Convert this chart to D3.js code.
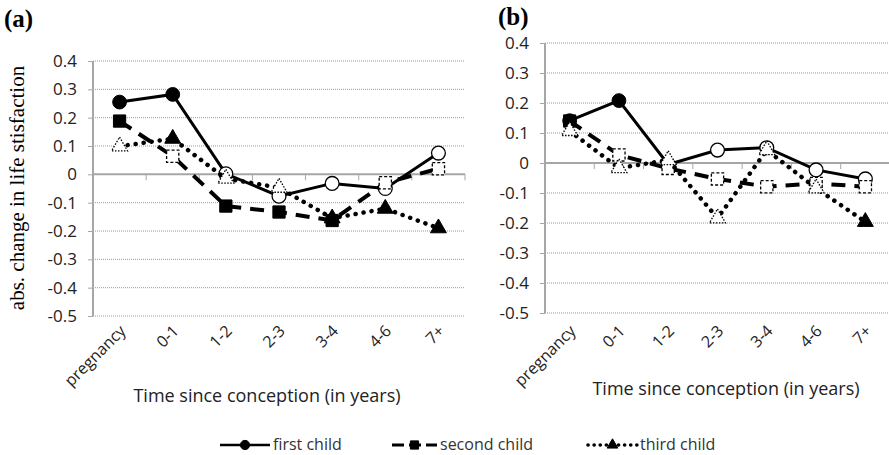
<!DOCTYPE html>
<html>
<head>
<meta charset="utf-8">
<script src="https://cdn.jsdelivr.net/npm/d3@7"></script>
<style>
  body { margin: 0; background: #fff; }
  svg { display: block; }
  .tick text { font-family: "Open Sans", sans-serif; }
</style>
</head>
<body>
<svg id="chart" width="889" height="455"></svg>
<script>
const categories = ['pregnancy', '0-1', '1-2', '2-3', '3-4', '4-6', '7+']
const yTicks = [0.4, 0.3, 0.2, 0.1, 0, -0.1, -0.2, -0.3, -0.4, -0.5]
const seriesNames = ['first child', 'second child', 'third child']

// panel (a)
const aFirst = [0.255, 0.282, 0.002, -0.077, -0.032, -0.05, 0.075]
const aFirstSig = [1, 1, 0, 0, 0, 0, 0]
const aSecond = [0.188, 0.064, -0.112, -0.133, -0.163, -0.03, 0.02]
const aSecondSig = [1, 0, 1, 1, 1, 0, 0]
const aThird = [0.099, 0.126, -0.015, -0.047, -0.155, -0.121, -0.19]
const aThirdSig = [0, 1, 0, 0, 1, 1, 1]

// panel (b)
const bFirst = [0.141, 0.208, -0.005, 0.043, 0.051, -0.023, -0.053]
const bFirstSig = [1, 1, 0, 0, 0, 0, 0]
const bSecond = [0.14, 0.027, -0.018, -0.053, -0.079, -0.068, -0.079]
const bSecondSig = [1, 0, 0, 0, 0, 0, 0]
const bThird = [0.107, -0.017, 0.01, -0.184, 0.043, -0.084, -0.196]
const bThirdSig = [0, 0, 0, 0, 0, 0, 1]

const svg = d3.select('#chart')
const grey = '#a6a6a6'
const sans = '"Open Sans", sans-serif'
const serif = '"Liberation Serif", serif'

const lineStyles = [
	{dash: null, width: 3, cap: 'butt'},
	{dash: '14,9', width: 4, cap: 'butt'},
	{dash: '0.1,8', width: 4.5, cap: 'round'}
]
const shapes = [d3.symbolCircle, d3.symbolSquare, d3.symbolTriangle]
const shapeSizes = [150, 150, 110]
const openDash = [null, '3,2', '1.5,1.5']

function marker(g, kind, filled, x, y, scale) {
	g.append('path')
		.attr('d', d3.symbol().type(shapes[kind]).size(shapeSizes[kind] * scale)())
		.attr('transform', `translate(${x},${y})`)
		.style('fill', filled ? '#000' : '#fff')
		.style('stroke', '#000')
		.style('stroke-width', filled ? 1 : 1.3)
		.style('stroke-dasharray', filled ? null : openDash[kind])
}

function drawPanel(p) {
	let x = d3.scalePoint().domain(categories).range([p.left, p.right]).padding(0.5)
	let y = d3.scaleLinear().domain([-0.5, 0.4]).range([p.bottom, p.top])
	let g = svg.append('g')

	// dotted gridlines
	g.selectAll('.grid')
		.data(yTicks.filter(d => d !== 0))
		.enter().append('line')
		.attr('x1', p.left).attr('x2', p.right)
		.attr('y1', d => y(d)).attr('y2', d => y(d))
		.style('stroke', '#999')
		.style('stroke-width', 1)
		.style('stroke-dasharray', '1,1')

	// y axis
	let yAxis = g.append('g')
		.attr('transform', `translate(${p.left},0)`)
		.call(d3.axisLeft(y)
			.tickValues(yTicks)
			.tickSize(5)
			.tickPadding(11)
			.tickFormat(d => d === 0 ? '0' : d.toFixed(1)))
	yAxis.select('.domain').style('stroke', grey).style('stroke-width', 2)
		.attr('d', `M0,${y(0.4)}V${y(-0.5)}`)
	yAxis.selectAll('.tick line').style('stroke', grey).style('stroke-width', 1)
	yAxis.selectAll('.tick text').style('font-size', '17px').style('fill', '#222')

	// zero line with ticks between categories
	let step = x.step()
	g.append('line')
		.attr('x1', p.left).attr('x2', p.right)
		.attr('y1', y(0)).attr('y2', y(0))
		.style('stroke', grey).style('stroke-width', 2)
	g.selectAll('.ztick')
		.data(d3.range(1, categories.length + 1))
		.enter().append('line')
		.attr('x1', i => p.left + i * step).attr('x2', i => p.left + i * step)
		.attr('y1', y(0)).attr('y2', y(0) + 6)
		.style('stroke', grey).style('stroke-width', 1)

	// category labels
	g.selectAll('.cat')
		.data(categories)
		.enter().append('text')
		.attr('transform', d => `translate(${x(d) + 7},${p.catY}) rotate(-45)`)
		.attr('text-anchor', 'end')
		.style('font-family', sans)
		.style('font-size', '16px')
		.style('fill', '#222')
		.text(d => d)

	g.append('text')
		.attr('x', p.titleX).attr('y', p.titleY)
		.attr('text-anchor', 'middle')
		.style('font-family', sans)
		.style('font-size', '18px')
		.style('fill', '#222')
		.text('Time since conception (in years)')

	g.append('text')
		.attr('x', p.labelX).attr('y', p.labelY)
		.style('font-family', serif)
		.style('font-weight', 'bold')
		.style('font-size', '25px')
		.text(p.label)

	// series: lines then markers, in order
	p.series.forEach((s, k) => {
		let line = d3.line().x((d, i) => x(categories[i])).y(d => y(d))
		g.append('path')
			.datum(s.values)
			.attr('d', line)
			.style('fill', 'none')
			.style('stroke', '#000')
			.style('stroke-width', lineStyles[k].width)
			.style('stroke-linecap', lineStyles[k].cap)
			.style('stroke-dasharray', lineStyles[k].dash)
		s.values.forEach((v, i) => {
			marker(g, k, s.sig[i], x(categories[i]), y(v), 1)
		})
	})
}

drawPanel({
	left: 93, right: 465, top: 61, bottom: 316,
	catY: 332, titleX: 267, titleY: 402,
	labelX: 4, labelY: 27, label: '(a)',
	series: [
		{values: aFirst, sig: aFirstSig},
		{values: aSecond, sig: aSecondSig},
		{values: aThird, sig: aThirdSig}
	]
})

drawPanel({
	left: 545, right: 890, top: 43, bottom: 313,
	catY: 332, titleX: 726, titleY: 395,
	labelX: 498, labelY: 25, label: '(b)',
	series: [
		{values: bFirst, sig: bFirstSig},
		{values: bSecond, sig: bSecondSig},
		{values: bThird, sig: bThirdSig}
	]
})

// y axis title
svg.append('text')
	.attr('transform', 'translate(24,188) rotate(-90)')
	.attr('text-anchor', 'middle')
	.style('font-family', serif)
	.style('font-size', '21px')
	.text('abs. change in life stisfaction')

// legend
const legendX = [220, 392, 588]
const legendW = [50, 45, 49]
const legendY = 445
let lg = svg.append('g')
seriesNames.forEach((name, k) => {
	lg.append('line')
		.attr('x1', legendX[k]).attr('x2', legendX[k] + legendW[k])
		.attr('y1', legendY).attr('y2', legendY)
		.style('stroke', '#000')
		.style('stroke-width', lineStyles[k].width * 0.8)
		.style('stroke-linecap', lineStyles[k].cap)
		.style('stroke-dasharray', k === 1 ? '12,5' : (k === 2 ? '0.1,6' : null))
	marker(lg, k, 1, legendX[k] + legendW[k] / 2, legendY, 0.45)
	lg.append('text')
		.attr('x', legendX[k] + legendW[k] + 3)
		.attr('y', legendY + 5)
		.style('font-family', sans)
		.style('font-size', '16px')
		.style('fill', '#333')
		.text(name)
})
</script>
</body>
</html>
